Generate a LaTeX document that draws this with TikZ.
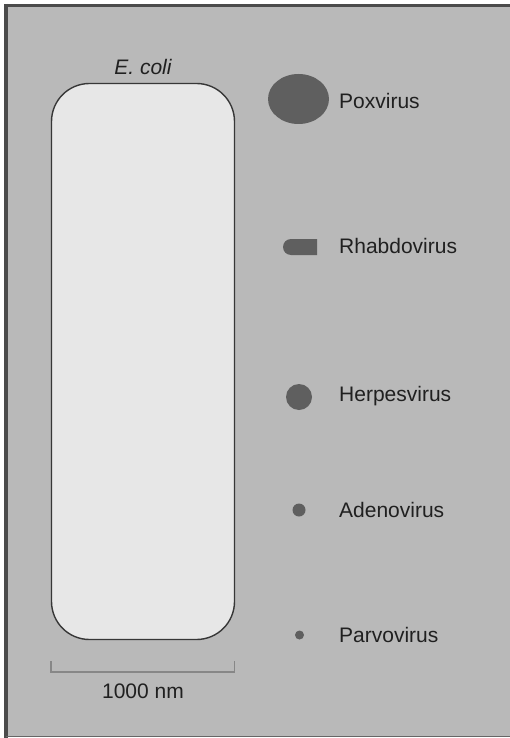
\documentclass[tikz,border=0pt]{standalone}
\usepackage{fontspec}
\usetikzlibrary{shapes.geometric}
\setmainfont{Liberation Sans}
\definecolor{bgcol}{RGB}{185,185,185}
\definecolor{cellfill}{RGB}{231,231,231}
\definecolor{cellline}{RGB}{55,55,55}
\definecolor{viruscol}{RGB}{95,95,95}
\definecolor{txtcol}{RGB}{32,32,32}
\definecolor{framecol}{RGB}{75,75,75}
\definecolor{barcol}{RGB}{135,135,135}
\tikzset{
  lbl/.style={anchor=west, inner sep=0pt, text=txtcol, font=\fontsize{21}{24}\selectfont},
  virus/.style={fill=viruscol, draw=none},
}
\begin{document}
\begin{tikzpicture}[x=1pt,y=-1pt]
\useasboundingbox (0,0) rectangle (510,738);
\fill[white] (0,0) rectangle (510,738);
\fill[bgcol] (6,5.5) rectangle (510,737);
% frame
\draw[framecol, line width=3pt] (6,5.5) -- (510,5.5);
\draw[framecol, line width=4pt] (6,4) -- (6,738);
\draw[black!60, line width=1pt] (6,736.5) -- (510,736.5);
% E. coli cell
\node[draw=cellline, fill=cellfill, line width=1.4pt, rounded corners=38pt,
      minimum width=183pt, minimum height=556pt, inner sep=0pt] (ecoli) at (143,361.5) {};
\node[text=txtcol, font=\fontsize{21}{24}\selectfont\itshape, inner sep=0pt] (ecolilbl) at (143,67) {E. coli};
% scale bar
\coordinate (b1) at (51,661);
\coordinate (b2) at (51,672);
\coordinate (b3) at (234.5,672);
\coordinate (b4) at (234.5,661);
\draw[barcol, line width=1.3pt] (b1) -- (b2) -- (b3) -- (b4);
\node[text=txtcol, font=\fontsize{21}{24}\selectfont, inner sep=0pt] (barlbl) at (143,691.5) {1000 nm};
% viruses
\node[virus, ellipse, minimum width=61pt, minimum height=50pt, inner sep=0pt] (pox) at (298.5,99) {};
\fill[viruscol] (317,239) -- (291,239) arc[start angle=270, end angle=90, radius=8] -- (317,255) -- cycle;
\coordinate (rhab) at (300,247);
\node[virus, circle, minimum size=26pt, inner sep=0pt] (herpes) at (299,397) {};
\node[virus, circle, minimum size=13pt, inner sep=0pt] (adeno) at (299,510) {};
\node[virus, circle, minimum size=9pt, inner sep=0pt] (parvo) at (299.5,635) {};
% labels
\node[lbl] (poxlbl) at (339,100.5) {Poxvirus};
\node[lbl] (rhablbl) at (339,245.5) {Rhabdovirus};
\node[lbl] (herpeslbl) at (339,396) {Herpesvirus};
\node[lbl] (adenolbl) at (339,510) {Adenovirus};
\node[lbl] (parvolbl) at (339,635) {Parvovirus};
\end{tikzpicture}
\end{document}
